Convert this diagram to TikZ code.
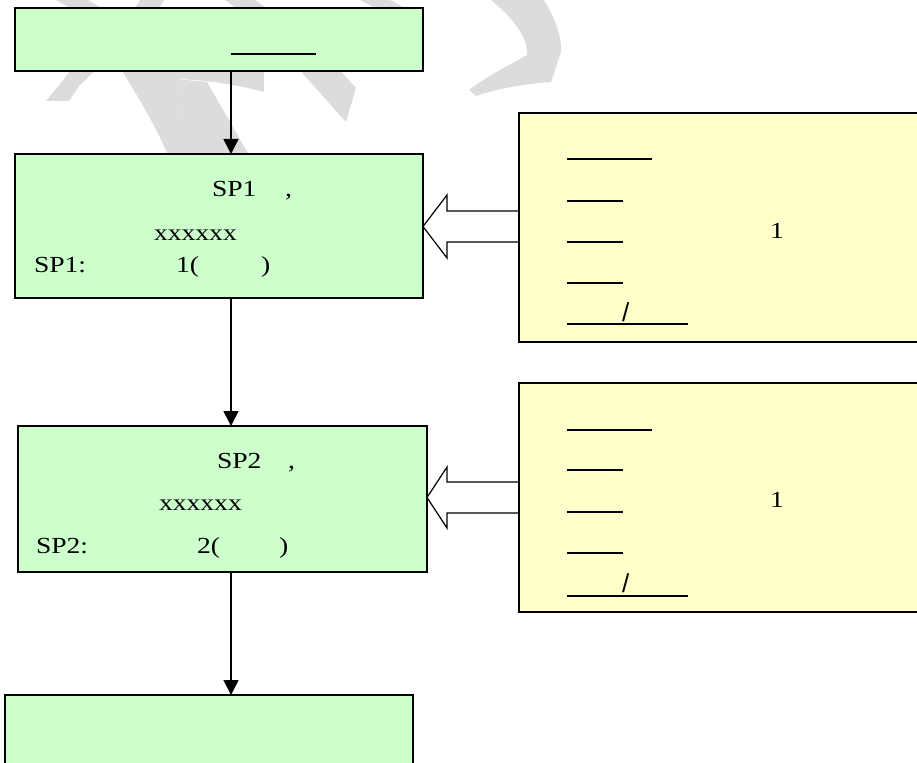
\documentclass[tikz,border=0pt]{standalone}
\usepackage{fontspec}
\setmainfont{Liberation Serif}
\newfontfamily\wf[FakeStretch=1.2]{Liberation Serif}
\newfontfamily\slashfont{Liberation Sans}
\usetikzlibrary{arrows.meta}
\definecolor{boxgreen}{HTML}{CCFFCC}
\definecolor{boxyellow}{HTML}{FFFFCC}
\definecolor{wmark}{HTML}{DCDCDC}
\tikzset{
  gbox/.style={draw=black, line width=1.8pt, fill=boxgreen, rectangle, anchor=north west, inner sep=0pt, outer sep=0pt},
  ybox/.style={draw=black, line width=1.6pt, fill=boxyellow, rectangle, anchor=north west, inner sep=0pt, outer sep=0pt},
  conn/.style={draw=black, line width=1.6pt, -{Triangle[length=15pt,width=15pt]}},
  hollow/.style={draw=black, line width=1.2pt, fill=white, line join=miter},
  txt/.style={anchor=base west, inner sep=0pt, outer sep=0pt, font=\wf\fontsize{23}{27}\selectfont},
  slashtxt/.style={anchor=base west, inner sep=0pt, outer sep=0pt, font=\slashfont\fontsize{26}{30}\selectfont},
  uline/.style={draw=black, line width=1.6pt},
  wm/.style={fill=wmark, draw=none}
}
\begin{document}
\begin{tikzpicture}[x=1pt, y=-1pt]
\useasboundingbox (0,0) rectangle (917,762);
\clip (0,0) rectangle (917,762);
% watermark
\fill[wm] (56,0) -- (88,0) -- (105,10) -- (73,10) -- cycle;
\fill[wm] (140,0) -- (164,0) -- (158,10) -- (134,10) -- cycle;
\fill[wm] (225,0) -- (255,0) -- (269,10) -- (239,10) -- cycle;
\fill[wm] (360,0) -- (390,0) -- (409,10) -- (379,10) -- cycle;
\fill[wm] (46,101) -- (69,101) -- (79,86) -- (100,66) -- (74,66) -- (60,84) -- cycle;
\fill[wm] (119,66) .. controls (140,100) and (155,125) .. (168,155) -- (191,155) -- (184,127) -- (176,79) .. controls (205,80) and (235,84) .. (264,92) -- (264,66) -- cycle;
\fill[wm] (176,79) -- (207,82) -- (249,155) -- (191,155) -- (184,127) -- cycle;
\fill[wm] (296,66) -- (346,122) -- (356,88) -- (336,66) -- cycle;
\fill[wm] (491,0) -- (544,0) .. controls (556,20) and (562,38) .. (561,52) -- (551,82) .. controls (525,84) and (500,88) .. (476,96) -- (469,90) .. controls (490,74) and (515,62) .. (527,55) .. controls (528,38) and (515,20) .. (491,0) -- cycle;
% green boxes
\node[gbox, minimum width=408pt, minimum height=63pt] (A) at (15,8) {};
\node[gbox, minimum width=408pt, minimum height=144pt] (B) at (15,154) {};
\node[gbox, minimum width=409pt, minimum height=146pt] (C) at (18,426) {};
\node[gbox, minimum width=408pt, minimum height=120pt] (D) at (5,695) {};
\coordinate (ax) at (231,0);
% connectors
\draw[conn] (A.south -| ax) -- (B.north -| ax);
\draw[conn] (B.south -| ax) -- (C.north -| ax);
\draw[conn] (C.south -| ax) -- (D.north -| ax);
% hollow arrows
\draw[hollow] (519,211) -- (447,211) -- (447,195) -- (B.east |- 0,226.5) -- (447,258) -- (447,242) -- (519,242);
\draw[hollow] (519,482) -- (447,482) -- (447,467) -- (C.east |- 0,497.5) -- (447,528) -- (447,513) -- (519,513);
% yellow boxes
\node[ybox, minimum width=420pt, minimum height=229pt] (Y1) at (519,113) {};
\node[ybox, minimum width=420pt, minimum height=229pt] (Y2) at (519,383) {};
% box A underline
\draw[uline] (231,54) -- (316,54);
% box B text
\node[txt] (b1) at (212,196) {SP1};
\node[txt] (b2) at (285,196) {,};
\node[txt] (b3) at (154,240) {xxxxxx};
\node[txt] (b4) at (34,272) {SP1:};
\node[txt] (b5) at (176,272) {1(};
\node[txt] (b6) at (261,272) {)};
% box C text
\node[txt] (c1) at (217,468) {SP2};
\node[txt] (c2) at (288,468) {,};
\node[txt] (c3) at (159,510) {xxxxxx};
\node[txt] (c4) at (36,553) {SP2:};
\node[txt] (c5) at (197,553) {2(};
\node[txt] (c6) at (279,553) {)};
% yellow box 1 content
\draw[uline] (567,159) -- (652,159);
\draw[uline] (567,201) -- (623,201);
\draw[uline] (567,242) -- (623,242);
\draw[uline] (567,283) -- (623,283);
\draw[uline] (567,324) -- (688,324);
\node[slashtxt] (s1) at (622,321) {/};
\node[txt] (y1) at (770,238) {1};
% yellow box 2 content
\draw[uline] (567,430) -- (652,430);
\draw[uline] (567,470) -- (623,470);
\draw[uline] (567,512) -- (623,512);
\draw[uline] (567,553) -- (623,553);
\draw[uline] (567,596) -- (688,596);
\node[slashtxt] (s2) at (622,592) {/};
\node[txt] (y2) at (770,507) {1};
\end{tikzpicture}
\end{document}
